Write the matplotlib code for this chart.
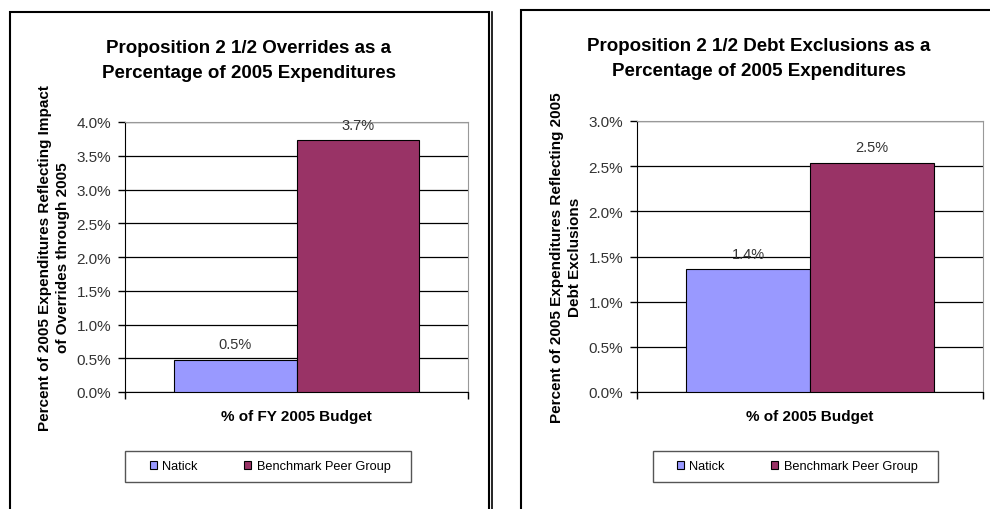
import matplotlib
matplotlib.use("Agg")
import matplotlib.pyplot as plt
from matplotlib.patches import Patch, Rectangle

plt.rcParams['font.family'] = ['Liberation Sans', 'DejaVu Sans']

# values in percent of 2005 expenditures
series = ["Natick", "Benchmark Peer Group"]
colors = ["#9999FF", "#993366"]

override_vals = [0.48, 3.73]
debt_vals = [1.36, 2.54]

override_ticks = [0.0, 0.5, 1.0, 1.5, 2.0, 2.5, 3.0, 3.5, 4.0]
debt_ticks = [0.0, 0.5, 1.0, 1.5, 2.0, 2.5, 3.0]

W, H = 990, 510
fig = plt.figure(figsize=(W / 100, H / 100), dpi=100)


def px(x0, y0, x1, y1):
    # pixel box (top-left origin) -> figure fraction rect
    return [x0 / W, 1 - y1 / H, (x1 - x0) / W, (y1 - y0) / H]


def bar_panel(rect, vals, ticks, ylabel, xlabel):
    ax = fig.add_axes(rect)
    bw = 0.357
    xs = [0.5 - bw / 2, 0.5 + bw / 2]
    for x, v, c in zip(xs, vals, colors):
        ax.bar(x, v, width=bw, color=c, edgecolor="black", linewidth=0.8, zorder=3)
        ax.annotate(f"{v:.1f}%", (x, v), xytext=(0, 6), textcoords="offset points",
                    ha="center", va="bottom", fontsize=10.5, color="#333333", zorder=4)
    ax.set_xlim(0, 1)
    ax.set_ylim(ticks[0], ticks[-1])
    ax.set_yticks(ticks)
    ax.set_yticklabels([f"{t:.1f}%" for t in ticks], fontsize=11, color="#333333")
    ax.set_xticks([0, 1])
    ax.set_xticklabels([])
    ax.tick_params(axis="both", direction="out", length=5, width=1, color="black", pad=5)
    ax.yaxis.grid(True, color="black", linewidth=0.9, zorder=0)
    ax.set_axisbelow(True)
    for s in ["top", "right"]:
        ax.spines[s].set_color("#999999")
    for s in ["left", "bottom"]:
        ax.spines[s].set_color("black")
    ax.set_ylabel(ylabel, fontsize=11, fontweight="bold", labelpad=5, linespacing=1.3)
    ax.set_xlabel(xlabel, fontsize=11, fontweight="bold", labelpad=2)
    return ax


bar_panel(px(125, 123, 468, 393), override_vals, override_ticks,
          "Percent of 2005 Expenditures Reflecting Impact\nof Overrides through 2005",
          "% of FY 2005 Budget")
bar_panel(px(637, 122, 983, 393), debt_vals, debt_ticks,
          "Percent of 2005 Expenditures Reflecting 2005\nDebt Exclusions",
          "% of 2005 Budget")

# titles
fig.text(249 / W, 1 - 61 / H, "Proposition 2 1/2 Overrides as a\nPercentage of 2005 Expenditures",
         ha="center", va="center", fontsize=13.5, fontweight="bold", linespacing=1.55)
fig.text(759 / W, 1 - 59 / H, "Proposition 2 1/2 Debt Exclusions as a\nPercentage of 2005 Expenditures",
         ha="center", va="center", fontsize=13.5, fontweight="bold", linespacing=1.55)

# legends, frames drawn separately to get the wide padding
handles = [Patch(facecolor=c, edgecolor="black", linewidth=0.8, label=s) for s, c in zip(series, colors)]
for cx, (bx0, bx1) in ((270, (125, 411)), (797, (653, 938))):
    fig.legend(handles=handles, loc="center", bbox_to_anchor=(cx / W, 1 - 467.5 / H),
               ncol=2, fontsize=9.2, frameon=False, handlelength=0.6,
               handleheight=0.6, handletextpad=0.4, columnspacing=3.6)
    fig.add_artist(Rectangle((bx0 / W, 1 - 483 / H), (bx1 - bx0) / W, 31 / H,
                             transform=fig.transFigure, fill=False,
                             edgecolor="#555555", linewidth=1))

# panel frames
fig.add_artist(Rectangle((10 / W, -0.1), 478.5 / W, 1.1 - 13 / H, transform=fig.transFigure,
                         fill=False, edgecolor="black", linewidth=1.5))
fig.add_artist(plt.Line2D([491.5 / W, 491.5 / W], [0, 1 - 13 / H], transform=fig.transFigure,
                          color="black", linewidth=1.2))
fig.add_artist(Rectangle((521 / W, -0.1), 1, 1.1 - 11 / H, transform=fig.transFigure,
                         fill=False, edgecolor="black", linewidth=1.5))

fig.savefig("out.png", dpi=100)
